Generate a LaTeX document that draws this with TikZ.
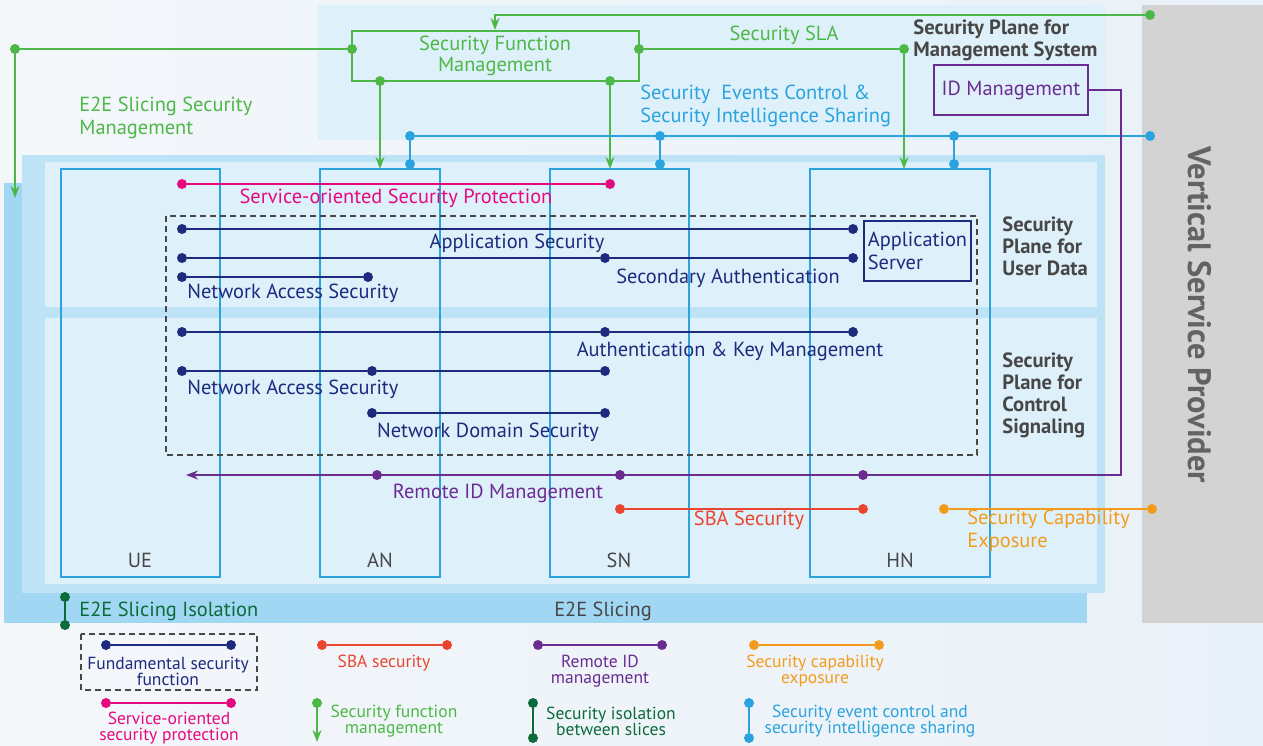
\documentclass[tikz,border=0pt]{standalone}
\usepackage{fontspec}
\setmainfont{PT Sans}
\usetikzlibrary{arrows.meta,positioning}
\definecolor{sgreen}{HTML}{4DB848}
\definecolor{sblue}{HTML}{2AA3DE}
\definecolor{smagenta}{HTML}{E5097F}
\definecolor{snavy}{HTML}{1D2A7D}
\definecolor{spurple}{HTML}{6B2C91}
\definecolor{sred}{HTML}{E94530}
\definecolor{sorange}{HTML}{F39C1B}
\definecolor{sdkgreen}{HTML}{0B6B3A}
\definecolor{sgray}{HTML}{474747}
\definecolor{bgleft}{HTML}{F4F7FA}
\definecolor{bgright}{HTML}{E9F1F8}
\definecolor{slicedark}{HTML}{A2D7F3}
\definecolor{slicemid}{HTML}{BEE3F7}
\definecolor{planefill}{HTML}{DEF0FA}
\definecolor{vspfill}{HTML}{D3D3D3}
\tikzset{
  endpt/.style={circle,fill,inner sep=0pt,minimum size=5pt},
  conn/.style={line width=1pt},
  tip/.style={-{Stealth[length=6pt,width=4.5pt]}},
  lbl/.style={font=\fontsize{10.2}{11.5}\selectfont,inner sep=0pt},
  legend/.style={font=\fontsize{8.75}{8}\selectfont,inner sep=0pt,align=center},
  planetitle/.style={font=\bfseries\fontsize{10.3}{11}\selectfont,text=sgray,inner sep=0pt,align=left,anchor=west},
  colbox/.style={draw=sblue,line width=0.7pt},
  dashbox/.style={draw=sgray,line width=0.6pt,dash pattern=on 3pt off 2pt}
}
\begin{document}
\begin{tikzpicture}[x=0.5pt,y=-0.5pt]
\useasboundingbox (0,0) rectangle (1263,745);
% background and planes
\shade[left color=bgleft,right color=bgright] (0,0) rectangle (1263,745);
\fill[planefill] (318,5) rectangle (1106,140);
\fill[vspfill] (1142,5) rectangle (1263,623);
\fill[slicedark] (4,183) rectangle (1087,623);
\fill[slicemid] (22,155) rectangle (1105,593);
\fill[planefill] (45,162) rectangle (1097,307);
\fill[planefill] (45,318) rectangle (1097,584);

% network entities
\draw[colbox] (61,169) rectangle (220,577);
\draw[colbox] (320,169) rectangle (440,577);
\draw[colbox] (550,169) rectangle (689,577);
\draw[colbox] (810,169) rectangle (990,577);
\node[lbl,text=sgray] (ue) at (140,560) {UE};
\node[lbl,text=sgray] (an) at (380,560) {AN};
\node[lbl,text=sgray] (sn) at (619,560) {SN};
\node[lbl,text=sgray] (hn) at (900,560) {HN};
\coordinate (antop) at (380,169);
\coordinate (sntop) at (610,169);
\coordinate (hntop) at (904,169);

% titles
\node[font=\bfseries\fontsize{16.2}{16}\selectfont,text=sgray!85,rotate=-90] (vsp) at (1200,315) {Vertical Service Provider};
\node[planetitle] (mgmtplane) at (913,40) {Security Plane for\\Management System};
\node[planetitle] (userplane) at (1002,246) {Security\\Plane for\\User Data};
\node[planetitle] (ctrlplane) at (1002,395) {Security\\Plane for\\Control\\Signaling};
\node[lbl,text=sgray] (slicing) at (603,611) {E2E Slicing};

% security function management
\node[draw=sgreen,line width=1pt,text=sgreen,lbl,font=\fontsize{10.2}{9}\selectfont,align=center,minimum width=143.5pt,minimum height=25pt] (sfm) at (495,56) {Security Function\\Management};
\node[endpt,sgreen] (sfmL) at (352,49) {};
\node[endpt,sgreen] (sfmR) at (639,49) {};
\node[endpt,sgreen] (sfmB1) at (380,81) {};
\node[endpt,sgreen] (sfmB2) at (610,81) {};
\node[endpt,sgreen] (vspG) at (1150,15) {};
\coordinate (sfmT) at (495,15);
\draw[conn,sgreen,tip] (vspG) -- (sfmT) -- (sfm.north);
\draw[conn,sgreen,tip] (sfmB1) -- (antop);
\draw[conn,sgreen,tip] (sfmB2) -- (sntop);
\node[endpt,sgreen] (sla) at (904,49) {};
\draw[conn,sgreen] (sfmR) -- (sla);
\draw[conn,sgreen,tip] (sla) -- (hntop);
\node[lbl,text=sgreen] (slalbl) at (784,35) {Security SLA};
\node[endpt,sgreen] (e2eG) at (15,49) {};
\coordinate (e2eA) at (15,198);
\draw[conn,sgreen] (e2eG) -- (sfmL);
\draw[conn,sgreen,tip] (e2eG) -- (e2eA);
\node[lbl,text=sgreen,align=left,anchor=west] (e2elbl) at (79,118) {E2E Slicing Security\\Management};

% security events control
\node[endpt,sblue] (bA1) at (410,136) {};
\node[endpt,sblue] (bA2) at (410,164) {};
\node[endpt,sblue] (bS1) at (660,136) {};
\node[endpt,sblue] (bS2) at (660,164) {};
\node[endpt,sblue] (bH1) at (954,136) {};
\node[endpt,sblue] (bH2) at (954,164) {};
\node[endpt,sblue] (bV) at (1150,136) {};
\draw[conn,sblue] (bA1) -- (bV);
\draw[conn,sblue] (bA1) -- (bA2);
\draw[conn,sblue] (bS1) -- (bS2);
\draw[conn,sblue] (bH1) -- (bH2);
\node[lbl,text=sblue,align=left,anchor=west] (seclbl) at (640,106) {Security\ \ Events Control \&\\Security Intelligence Sharing};

% remote ID management
\node[draw=spurple,line width=0.8pt,text=spurple,lbl,minimum width=77pt,minimum height=25pt] (idm) at (1011,90) {ID Management};
\coordinate (idc1) at (1121,90);
\coordinate (idc2) at (1121,475);
\coordinate (rid0) at (186,475);
\draw[conn,spurple,tip] (idm.east) -- (idc1) -- (idc2) -- (rid0);
\node[endpt,spurple] (rid1) at (377,475) {};
\node[endpt,spurple] (rid2) at (620,475) {};
\node[endpt,spurple] (rid3) at (863,475) {};
\node[lbl,text=spurple] (ridlbl) at (498,493) {Remote ID Management};

% service-oriented protection
\node[endpt,smagenta] (sop1) at (182,184) {};
\node[endpt,smagenta] (sop2) at (610,184) {};
\draw[conn,smagenta] (sop1) -- (sop2);
\node[lbl,text=smagenta] (soplbl) at (396,198) {Service-oriented Security Protection};

% fundamental security functions
\draw[dashbox] (166,216) rectangle (977,455);
\node[draw=snavy,line width=0.8pt,text=snavy,lbl,align=left,minimum width=53.5pt,minimum height=30pt] (appsrv) at (917.5,251) {Application\\Server};
\node[endpt,snavy] (as1) at (182,229) {};
\node[endpt,snavy] (as2) at (853,229) {};
\draw[conn,snavy] (as1) -- (as2);
\node[lbl,text=snavy] (aslbl) at (517,243) {Application Security};
\node[endpt,snavy] (sa1) at (182,258) {};
\node[endpt,snavy] (sa2) at (605,258) {};
\node[endpt,snavy] (sa3) at (853,258) {};
\draw[conn,snavy] (sa1) -- (sa2) -- (sa3);
\node[lbl,text=snavy] (salbl) at (728,278) {Secondary Authentication};
\node[endpt,snavy] (nu1) at (182,277) {};
\node[endpt,snavy] (nu2) at (368,277) {};
\draw[conn,snavy] (nu1) -- (nu2);
\node[lbl,text=snavy,anchor=west] (nulbl) at (187,293) {Network Access Security};
\node[endpt,snavy] (ak1) at (182,332) {};
\node[endpt,snavy] (ak2) at (605,332) {};
\node[endpt,snavy] (ak3) at (853,332) {};
\draw[conn,snavy] (ak1) -- (ak2) -- (ak3);
\node[lbl,text=snavy] (aklbl) at (730,351) {Authentication \& Key Management};
\node[endpt,snavy] (nc1) at (182,371) {};
\node[endpt,snavy] (nc2) at (372,371) {};
\node[endpt,snavy] (nc3) at (605,371) {};
\draw[conn,snavy] (nc1) -- (nc2) -- (nc3);
\node[lbl,text=snavy,anchor=west] (nclbl) at (187,389) {Network Access Security};
\node[endpt,snavy] (nd1) at (372,413) {};
\node[endpt,snavy] (nd2) at (605,413) {};
\draw[conn,snavy] (nd1) -- (nd2);
\node[lbl,text=snavy] (ndlbl) at (488,432) {Network Domain Security};

% SBA and capability exposure
\node[endpt,sred] (sba1) at (620,509) {};
\node[endpt,sred] (sba2) at (863,509) {};
\draw[conn,sred] (sba1) -- (sba2);
\node[lbl,text=sred] (sbalbl) at (749,520) {SBA Security};
\node[endpt,sorange] (sce1) at (944,509) {};
\node[endpt,sorange] (sce2) at (1152,509) {};
\draw[conn,sorange] (sce1) -- (sce2);
\node[lbl,text=sorange,align=left,anchor=west] (scelbl) at (967,531) {Security Capability\\Exposure};

% slicing isolation
\node[endpt,sdkgreen] (iso1) at (65,597) {};
\node[endpt,sdkgreen] (iso2) at (65,625) {};
\draw[conn,sdkgreen] (iso1) -- (iso2);
\node[lbl,text=sdkgreen,anchor=west] (isolbl) at (79,611) {E2E Slicing Isolation};

% legend
\draw[dashbox] (81,634) rectangle (257,690);
\node[endpt,snavy] (lgF1) at (106,645) {};
\node[endpt,snavy] (lgF2) at (231,645) {};
\draw[conn,snavy] (lgF1) -- (lgF2);
\node[legend,text=snavy] (lgFt) at (168,671) {Fundamental security\\function};
\node[endpt,smagenta] (lgS1) at (106,703) {};
\node[endpt,smagenta] (lgS2) at (231,703) {};
\draw[conn,smagenta] (lgS1) -- (lgS2);
\node[legend,text=smagenta] (lgSt) at (169,728) {Service-oriented\\security protection};
\node[endpt,sred] (lgB1) at (322,645) {};
\node[endpt,sred] (lgB2) at (447,645) {};
\draw[conn,sred] (lgB1) -- (lgB2);
\node[legend,text=sred] (lgBt) at (384,663) {SBA security};
\node[endpt,sgreen] (lgM1) at (317,703) {};
\coordinate (lgM2) at (317,742);
\draw[conn,sgreen,tip] (lgM1) -- (lgM2);
\node[legend,text=sgreen] (lgMt) at (394,721) {Security function\\management};
\node[endpt,spurple] (lgR1) at (538,645) {};
\node[endpt,spurple] (lgR2) at (662,645) {};
\draw[conn,spurple] (lgR1) -- (lgR2);
\node[legend,text=spurple] (lgRt) at (600,671) {Remote ID\\management};
\node[endpt,sdkgreen] (lgI1) at (533,703) {};
\node[endpt,sdkgreen] (lgI2) at (533,738) {};
\draw[conn,sdkgreen] (lgI1) -- (lgI2);
\node[legend,text=sdkgreen] (lgIt) at (611,721) {Security isolation\\between slices};
\node[endpt,sorange] (lgC1) at (754,645) {};
\node[endpt,sorange] (lgC2) at (879,645) {};
\draw[conn,sorange] (lgC1) -- (lgC2);
\node[legend,text=sorange] (lgCt) at (815,671) {Security capability\\exposure};
\node[endpt,sblue] (lgE1) at (749,703) {};
\node[endpt,sblue] (lgE2) at (749,738) {};
\draw[conn,sblue] (lgE1) -- (lgE2);
\node[legend,text=sblue] (lgEt) at (870,721) {Security event control and\\security intelligence sharing};
\end{tikzpicture}
\end{document}
